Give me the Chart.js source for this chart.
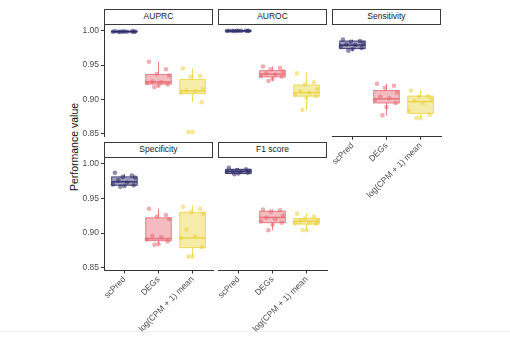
<!DOCTYPE html>
<html>
<head>
<meta charset="utf-8">
<script src="https://cdn.jsdelivr.net/npm/chart.js@4.4.1/dist/chart.umd.min.js"></script>
<style>
  html, body { margin: 0; padding: 0; background: #fff; }
  body { width: 510px; height: 339px; position: relative; overflow: hidden;
         font-family: "Liberation Sans", Arial, sans-serif; }
  canvas { position: absolute; left: 0; top: 0; }
  .strip { position: absolute; box-sizing: border-box; border: 1.4px solid #3a3a3a; background: #fff;
           font-size: 8.5px; color: #1a1a1a; text-align: center; }
  .ytitle { position: absolute; left: 74px; top: 147px; font-size: 10.5px; color: #111;
            transform: translate(-50%, -50%) rotate(-90deg); white-space: nowrap; }
  .baseline { position: absolute; left: 0; top: 331px; width: 510px; height: 1px; background: #ececec; }
</style>
</head>
<body>
<div class="ytitle">Performance value</div>
<div class="baseline"></div>
<script>
const groups = ['scPred', 'DEGs', 'log(CPM + 1) mean'];
const metrics = ['AUPRC', 'AUROC', 'Sensitivity', 'Specificity', 'F1 score'];
const yTicks = [0.85, 0.90, 0.95, 1.00];

// per-fold values, one list per method (scPred, DEGs, log mean)
const auprcPoints = [
  [0.9992, 0.9990, 0.9988, 0.9987, 0.9986, 0.9985, 0.9984, 0.9986, 0.9989, 0.9983],
  [0.955, 0.944, 0.937, 0.935, 0.926, 0.925, 0.924, 0.922, 0.920, 0.918],
  [0.945, 0.934, 0.933, 0.915, 0.913, 0.912, 0.910, 0.896, 0.853, 0.853]
];
const aurocPoints = [
  [1.0, 0.9999, 0.9998, 0.9998, 0.9997, 0.9997, 0.9996, 0.9995, 0.9999, 0.9996],
  [0.948, 0.946, 0.944, 0.941, 0.938, 0.936, 0.934, 0.933, 0.930, 0.927],
  [0.938, 0.925, 0.922, 0.915, 0.912, 0.910, 0.907, 0.905, 0.903, 0.885]
];
const sensPoints = [
  [0.987, 0.985, 0.984, 0.982, 0.980, 0.979, 0.977, 0.975, 0.973, 0.971],
  [0.923, 0.920, 0.917, 0.910, 0.904, 0.902, 0.899, 0.895, 0.889, 0.877],
  [0.913, 0.905, 0.904, 0.900, 0.898, 0.895, 0.884, 0.878, 0.873, 0.873]
];
const specPoints = [
  [0.987, 0.983, 0.981, 0.980, 0.976, 0.973, 0.970, 0.969, 0.968, 0.967],
  [0.935, 0.926, 0.924, 0.920, 0.896, 0.894, 0.891, 0.888, 0.884, 0.883],
  [0.938, 0.935, 0.930, 0.928, 0.905, 0.895, 0.893, 0.880, 0.866, 0.866]
];
const f1Points = [
  [0.994, 0.992, 0.991, 0.990, 0.989, 0.989, 0.988, 0.987, 0.986, 0.985],
  [0.934, 0.933, 0.931, 0.925, 0.922, 0.920, 0.917, 0.915, 0.912, 0.904],
  [0.928, 0.924, 0.921, 0.918, 0.917, 0.915, 0.914, 0.913, 0.904, 0.904]
];

// box summaries: [lower whisker, Q1, median, Q3, upper whisker]
const auprcBoxes = [[0.9983, 0.9985, 0.9987, 0.9990, 0.9992], [0.918, 0.9225, 0.9255, 0.9365, 0.955], [0.896, 0.9085, 0.9125, 0.929, 0.945]];
const aurocBoxes = [[0.9994, 0.9996, 0.9997, 0.9999, 1.0], [0.927, 0.933, 0.937, 0.942, 0.948], [0.885, 0.905, 0.910, 0.921, 0.939]];
const sensBoxes = [[0.971, 0.974, 0.979, 0.985, 0.987], [0.877, 0.895, 0.901, 0.913, 0.923], [0.874, 0.880, 0.897, 0.905, 0.913]];
const specBoxes = [[0.967, 0.969, 0.974, 0.981, 0.985], [0.883, 0.889, 0.892, 0.922, 0.935], [0.866, 0.879, 0.893, 0.930, 0.940]];
const f1Boxes = [[0.985, 0.986, 0.989, 0.992, 0.994], [0.904, 0.915, 0.9225, 0.9315, 0.934], [0.904, 0.913, 0.917, 0.921, 0.928]];

const panelPoints = [auprcPoints, aurocPoints, sensPoints, specPoints, f1Points];
const panelBoxes = [auprcBoxes, aurocBoxes, sensBoxes, specBoxes, f1Boxes];

// method colours
const colors = [[44, 42, 104], [231, 105, 115], [234, 212, 64]];
const rgba = (c, a) => `rgba(${c[0]}, ${c[1]}, ${c[2]}, ${a})`;

// facet grid geometry
const colX = [[104, 213], [218, 327], [332, 441]];
const rowY = [[25, 136.7], [158, 270.5]];
const stripH = 16;
const yAxisW = 30, xAxisH = 64;
const jitter = [-0.28, 0.22, -0.05, 0.31, -0.18, 0.08, -0.34, 0.27, 0.0, -0.12];

const boxPlugin = {
  id: 'boxes',
  beforeDatasetsDraw(chart, args, opts) {
    const ctx = chart.ctx, x = chart.scales.x, y = chart.scales.y;
    opts.boxes.forEach((b, i) => {
      const [lo, q1, med, q3, hi] = b;
      const cx = x.getPixelForValue(i + 1);
      const x0 = x.getPixelForValue(i + 1 - 0.375);
      const x1 = x.getPixelForValue(i + 1 + 0.375);
      ctx.save();
      ctx.strokeStyle = rgba(colors[i], 0.85);
      ctx.lineWidth = 1;
      // whiskers
      ctx.beginPath();
      ctx.moveTo(cx, y.getPixelForValue(q3));
      ctx.lineTo(cx, y.getPixelForValue(hi));
      ctx.moveTo(cx, y.getPixelForValue(q1));
      ctx.lineTo(cx, y.getPixelForValue(lo));
      ctx.stroke();
      // box
      const top = y.getPixelForValue(q3), bot = y.getPixelForValue(q1);
      ctx.fillStyle = rgba(colors[i], 0.45);
      ctx.fillRect(x0, top, x1 - x0, bot - top);
      ctx.strokeRect(x0, top, x1 - x0, bot - top);
      // median
      ctx.lineWidth = 1.6;
      ctx.beginPath();
      ctx.moveTo(x0, y.getPixelForValue(med));
      ctx.lineTo(x1, y.getPixelForValue(med));
      ctx.stroke();
      ctx.restore();
    });
  }
};

function makePanel(idx) {
  const row = Math.floor(idx / 3), col = idx % 3;
  const [left, right] = colX[col];
  const [top, bottom] = rowY[row];
  const showY = col === 0;
  const showX = row === 1 || col === 2;

  const strip = document.createElement('div');
  strip.className = 'strip';
  strip.style.left = left + 'px';
  strip.style.top = (top - stripH) + 'px';
  strip.style.width = (right - left) + 'px';
  strip.style.height = stripH + 'px';
  strip.style.lineHeight = (stripH - 3) + 'px';
  strip.textContent = metrics[idx];
  document.body.appendChild(strip);

  const canvas = document.createElement('canvas');
  canvas.width = 510;
  canvas.height = 339;
  document.body.appendChild(canvas);

  const datasets = panelPoints[idx].map((vals, i) => ({
    data: vals.map((v, k) => ({ x: i + 1 + jitter[k], y: v })),
    backgroundColor: rgba(colors[i], 0.55),
    borderWidth: 0,
    pointRadius: 2.3
  }));

  const axisGrid = { display: true, drawOnChartArea: false, drawTicks: true, tickLength: 3, color: '#333' };
  const tickFont = { family: '"Liberation Sans", Arial, sans-serif', size: 8.5 };

  new Chart(canvas, {
    type: 'scatter',
    data: { datasets },
    plugins: [boxPlugin],
    options: {
      responsive: false,
      animation: false,
      layout: {
        padding: {
          left: left - (showY ? yAxisW : 0),
          right: 510 - right,
          top: top,
          bottom: 339 - bottom - (showX ? xAxisH : 0)
        }
      },
      plugins: {
        legend: { display: false },
        tooltip: { enabled: false },
        boxes: { boxes: panelBoxes[idx] }
      },
      scales: {
        x: {
          type: 'linear',
          display: showX,
          min: 0.4, max: 3.6,
          afterBuildTicks: s => { s.ticks = [1, 2, 3].map(v => ({ value: v })); },
          afterFit: s => { s.height = showX ? xAxisH : 0; },
          grid: axisGrid,
          border: { display: true, color: '#333', width: 1 },
          ticks: {
            autoSkip: false, maxRotation: 45, minRotation: 45, padding: 1,
            color: '#4d4d4d', font: tickFont,
            callback: v => groups[v - 1]
          }
        },
        y: {
          display: showY,
          min: 0.846, max: 1.0083,
          afterBuildTicks: s => { s.ticks = yTicks.map(v => ({ value: v })); },
          afterFit: s => { s.width = showY ? yAxisW : 0; },
          grid: axisGrid,
          border: { display: true, color: '#333', width: 1 },
          ticks: {
            padding: 2, color: '#4d4d4d', font: tickFont,
            callback: v => v.toFixed(2)
          }
        }
      }
    }
  });
}

metrics.forEach((m, i) => makePanel(i));
</script>
</body>
</html>
